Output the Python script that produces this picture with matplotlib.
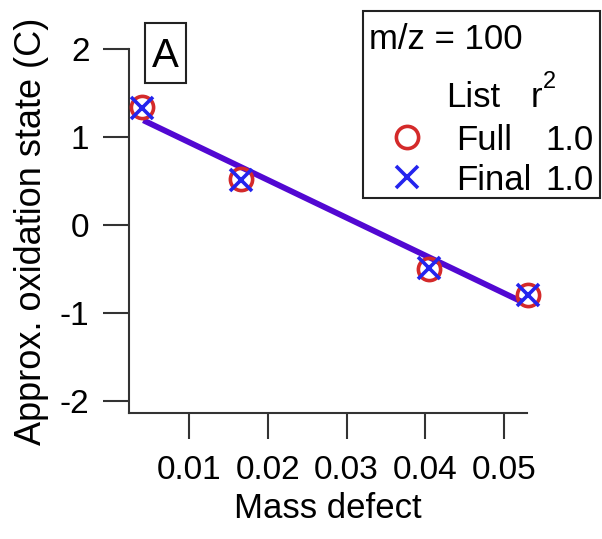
import matplotlib.pyplot as plt
from matplotlib.lines import Line2D
from matplotlib.patches import Rectangle

plt.rcParams['font.family'] = ['Liberation Sans', 'DejaVu Sans']

# data
mass_defect = [0.0040, 0.0166, 0.0404, 0.0530]
ox_full = [1.34, 0.52, -0.50, -0.80]
ox_final = [1.33, 0.51, -0.49, -0.79]
fit_x = [0.0042, 0.0522]
fit_y = [1.19, -0.87]
xticks = [0.01, 0.02, 0.03, 0.04, 0.05]
yticks = [-2, -1, 0, 1, 2]

red = '#D42A2A'
blue = '#2424EE'
purple = '#5208D2'

W, H = 602, 539
fig = plt.figure(figsize=(W / 100, H / 100), dpi=100)
ax = fig.add_axes([129 / W, 1 - 413 / H, (527 - 129) / W, (413 - 49) / H])

ax.plot(fit_x, fit_y, color=purple, lw=4.2, solid_capstyle='butt', zorder=2)
ax.plot(mass_defect, ox_full, 'o', ms=16, mfc='none', mec=red, mew=2.6, zorder=3, clip_on=False)
ax.plot(mass_defect, ox_final, 'x', ms=16, mec=blue, mew=2.6, zorder=4, clip_on=False)

ax.set_xlim(0.00238, 0.0529)
ax.set_ylim(-2.136, 2.0)
ax.set_xticks(xticks)
ax.set_xticklabels(['%.2f' % v for v in xticks])
ax.set_yticks(yticks)
ax.set_yticklabels([str(v) for v in yticks])
for s in ['top', 'right']:
    ax.spines[s].set_visible(False)
for s in ['left', 'bottom']:
    ax.spines[s].set_linewidth(1.5)
    ax.spines[s].set_color('#333333')
ax.tick_params(direction='out', length=18.5, width=1.5, color='#333333', labelsize=24)
ax.tick_params(axis='x', pad=12)
ax.tick_params(axis='y', pad=10)
ax.set_xlabel('Mass defect', fontsize=25, labelpad=4)
ax.set_ylabel('Approx. oxidation state (C)', fontsize=26, labelpad=8)

# panel letter
fig.patches.append(Rectangle((145 / W, 1 - 83 / H), 41 / W, 60 / H, transform=fig.transFigure,
                             fc='white', ec='#222222', lw=1.5))
fig.text(165.5 / W, 1 - 67 / H, 'A', fontsize=29, ha='center', va='baseline')

# legend box
fig.patches.append(Rectangle((363 / W, 1 - 198 / H), (600 - 363) / W, (198 - 11) / H,
                             transform=fig.transFigure, fill=False, ec='#222222', lw=1.5))
fs = 25
fig.text(369 / W, 1 - 49 / H, 'm/z = 100', fontsize=fs, va='baseline')
fig.text(446 / W, 1 - 107 / H, 'List', fontsize=fs, va='baseline')
fig.text(531 / W, 1 - 107 / H, 'r', fontsize=fs, va='baseline')
fig.text(543 / W, 1 - 88 / H, '2', fontsize=17, va='baseline')
fig.text(456 / W, 1 - 150 / H, 'Full', fontsize=fs, va='baseline')
fig.text(594 / W, 1 - 150 / H, '1.0', fontsize=fs, va='baseline', ha='right')
fig.text(456 / W, 1 - 190 / H, 'Final', fontsize=fs, va='baseline')
fig.text(594 / W, 1 - 190 / H, '1.0', fontsize=fs, va='baseline', ha='right')
fig.lines.append(Line2D([407 / W], [1 - 137 / H], transform=fig.transFigure, marker='o',
                        ms=16, mfc='none', mec=red, mew=2.6))
fig.lines.append(Line2D([407 / W], [1 - 177 / H], transform=fig.transFigure, marker='x',
                        ms=16, mec=blue, mew=2.6))

fig.savefig('out.png', dpi=100)
